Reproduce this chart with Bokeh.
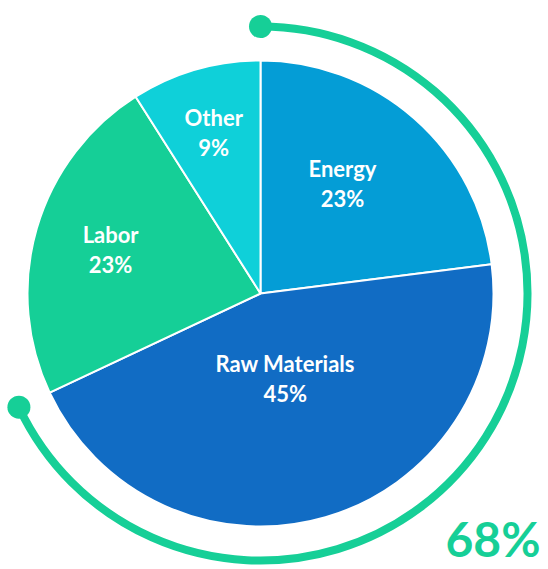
import numpy as np
from bokeh.plotting import figure
from bokeh.models import ColumnDataSource
from bokeh.core.properties import value
from bokeh.embed import file_html
from bokeh.resources import INLINE

# ---- data ----
categories = ["Energy", "Raw Materials", "Labor", "Other"]
shares = [23, 45, 23, 9]
pct_labels = ["23%", "45%", "23%", "9%"]
colors = ["#049dd6", "#116cc4", "#15cf97", "#0fd0d9"]
highlight_share = 68
highlight_label = "68%"

# ---- layout ----
W, H = 548, 569
cx, cy = 260, 276
R = 233
R_ARC = 267
label_r = [0.59, 0.38, 0.67, 0.72]
label_da = [4.8, 0.0, 0.0, 0.0]   # degrees nudge of label angle
accent = "#16cf97"
FONT = "Lato"

p = figure(width=W, height=H, x_range=(0, W), y_range=(0, H),
           output_backend="svg", toolbar_location=None, min_border=0)
p.axis.visible = False
p.grid.visible = False
p.outline_line_color = None
p.background_fill_color = "white"
p.border_fill_color = "white"

sh = np.array(shares, dtype=float)
frac = sh / sh.sum()
cum = np.concatenate([[0], np.cumsum(frac)])
starts = np.pi / 2 - cum[:-1] * 2 * np.pi
ends = np.pi / 2 - cum[1:] * 2 * np.pi
mids = (starts + ends) / 2 + np.radians(label_da)

src = ColumnDataSource(dict(start=starts, end=ends, color=colors))
p.wedge(x=cx, y=cy, radius=R, start_angle="start", end_angle="end",
        direction="clock", fill_color="color", line_color="white",
        line_width=2, source=src)

# highlight arc
a0 = np.pi / 2
a1 = np.pi / 2 - highlight_share / 100 * 2 * np.pi
p.arc(x=cx, y=cy, radius=R_ARC, start_angle=a0, end_angle=a1,
      direction="clock", line_width=8, line_color=accent)
ex = [cx + R_ARC * np.cos(a0), cx + R_ARC * np.cos(a1)]
ey = [cy + R_ARC * np.sin(a0), cy + R_ARC * np.sin(a1)]
p.circle(x=ex, y=ey, radius=11.5, fill_color=accent, line_color=None)

# labels
lx = cx + np.array(label_r) * R * np.cos(mids)
ly = cy + np.array(label_r) * R * np.sin(mids)
lab = ColumnDataSource(dict(x=lx, y1=ly + 15, y2=ly - 15,
                            name=categories, pct=pct_labels))
p.text(x="x", y="y1", text="name", source=lab, text_color="white",
       text_font=value(FONT), text_font_style="bold", text_font_size="22px",
       text_align="center", text_baseline="middle")
p.text(x="x", y="y2", text="pct", source=lab, text_color="white",
       text_font=value(FONT), text_font_style="bold", text_font_size="22px",
       text_align="center", text_baseline="middle")

p.text(x=[540], y=[31], text=[highlight_label], text_color=accent,
       text_font=value(FONT), text_font_style="bold", text_font_size="48px",
       text_align="right", text_baseline="middle")

open("out.html", "w").write(file_html(p, INLINE))
